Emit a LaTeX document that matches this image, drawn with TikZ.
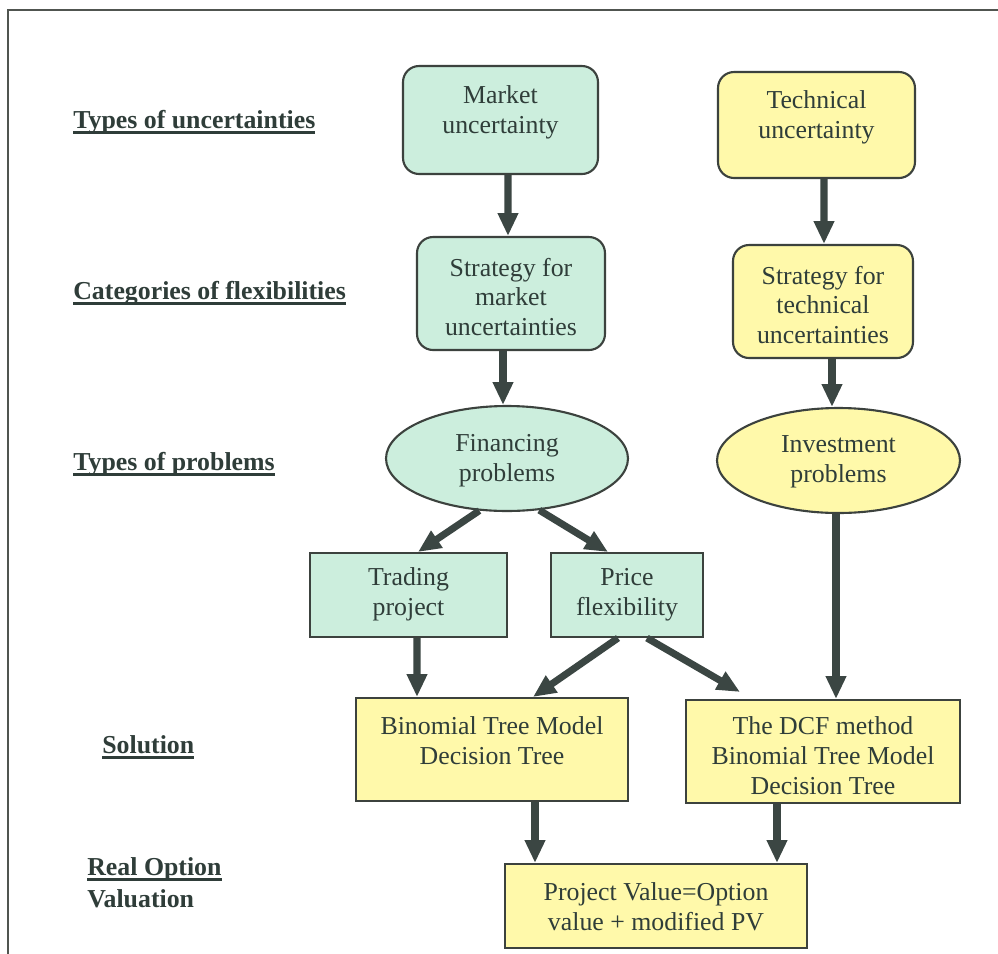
\documentclass[tikz,border=0pt]{standalone}
\usepackage{fontspec}
\setmainfont{Liberation Serif}
\usetikzlibrary{arrows.meta,shapes.geometric,calc}
\newcommand{\thkul}[1]{\setbox0\hbox{#1}\rlap{\rule[-3.4pt]{\wd0}{1.6pt}}\box0}
\definecolor{mint}{HTML}{CCEEDD}
\definecolor{lemon}{HTML}{FFF9AA}
\definecolor{edgec}{HTML}{3C423E}
\definecolor{ink}{HTML}{2F3D39}
\definecolor{arrowc}{HTML}{3B4643}
\definecolor{framec}{HTML}{505550}
\tikzset{
  shapebox/.style={draw=edgec, line width=1.2pt, inner sep=0pt},
  rbox/.style={shapebox, rectangle, rounded corners=0.32cm},
  sbox/.style={shapebox, rectangle},
  ell/.style={shapebox, ellipse},
  txt/.style={text=ink, align=center, font=\fontsize{14.7pt}{17pt}\selectfont, inner sep=0pt},
  lbl/.style={text=ink, font=\bfseries\fontsize{14.7pt}{17pt}\selectfont, inner sep=0pt, anchor=base west},
  arr/.style={draw=arrowc, line width=4pt, -{Triangle[length=13pt,width=11pt]}}
}
\begin{document}
\begin{tikzpicture}[x=0.02cm,y=-0.02cm]
\useasboundingbox (0,0) rectangle (998,954);
\fill[white] (0,0) rectangle (998,954);
\draw[framec, line width=1.2pt] (8,954) -- (8,10) -- (998,10);

% labels
\node[lbl] (L1) at (73,128) {\thkul{Types of uncertainties}};
\node[lbl] (L2) at (73,299) {\thkul{Categories of flexibilities}};
\node[lbl] (L3) at (73,470) {\thkul{Types of problems}};
\node[lbl] (L4) at (102,753) {\thkul{Solution}};
\node[lbl] (L5) at (87,875) {\thkul{Real Option}};
\node[lbl] (L6) at (87,907) {Valuation};

% shapes
\node[rbox, fill=mint, minimum width=3.9cm, minimum height=2.16cm] (MU) at (500.5,120) {};
\node[rbox, fill=lemon, minimum width=3.94cm, minimum height=2.12cm] (TU) at (816.5,125) {};
\node[rbox, fill=mint, minimum width=3.76cm, minimum height=2.26cm] (SM) at (511,293.5) {};
\node[rbox, fill=lemon, minimum width=3.6cm, minimum height=2.26cm] (ST) at (823,301.5) {};
\node[ell, fill=mint, minimum width=4.84cm, minimum height=2.1cm] (FP) at (507,458.5) {};
\node[ell, fill=lemon, minimum width=4.86cm, minimum height=2.1cm] (IP) at (838.5,460.5) {};
\node[sbox, fill=mint, minimum width=3.94cm, minimum height=1.68cm] (TP) at (408.5,595) {};
\node[sbox, fill=mint, minimum width=3.04cm, minimum height=1.68cm] (PF) at (627,595) {};
\node[sbox, fill=lemon, minimum width=5.44cm, minimum height=2.06cm] (BT) at (492,749.5) {};
\node[sbox, fill=lemon, minimum width=5.48cm, minimum height=2.06cm] (DCF) at (823,751.5) {};
\node[sbox, fill=lemon, minimum width=6.04cm, minimum height=1.68cm] (PV) at (656,906) {};

% texts
\node[txt] (MUt) at (500.5,112) {Market\\uncertainty};
\node[txt] (TUt) at (816.5,117.5) {Technical\\uncertainty};
\node[txt] (SMt) at (511,297) {Strategy for\\market\\uncertainties};
\node[txt] (STt) at (823,305) {Strategy for\\technical\\uncertainties};
\node[txt] (FPt) at (507,461) {Financing\\problems};
\node[txt] (IPt) at (838.5,462) {Investment\\problems};
\node[txt] (TPt) at (408.5,594) {Trading\\project};
\node[txt] (PFt) at (627,595) {Price\\flexibility};
\node[txt] (BTt) at (492,741) {Binomial Tree Model\\Decision Tree};
\node[txt] (DCFt) at (823,756) {The DCF method\\Binomial Tree Model\\Decision Tree};
\node[txt] (PVt) at (656,906.5) {Project Value=Option\\value + modified PV};

% arrows
\draw[arr] ($(MU.south)+(7.5,0)$) -- ($(SM.north)+(-3,0)$);
\draw[arr] ($(TU.south)+(7.5,0)$) -- ($(ST.north)+(1,0)$);
\draw[arr] ($(SM.south)+(-8,0)$) -- ($(FP.north)+(-4,0)$);
\draw[arr] ($(ST.south)+(9,0)$) -- ($(IP.north)+(-6.5,0)$);
\draw[arr] ($(IP.south)+(-2.5,0)$) -- ($(DCF.north)+(13,0)$);
\draw[arr] (FP.242) -- ($(TP.north)+(9.5,0)$);
\draw[arr] (FP.302) -- ($(PF.north)+(-19,0)$);
\draw[arr] ($(TP.south)+(8.5,0)$) -- ($(BT.north)+(-75,0)$);
\draw[arr] ($(PF.south)+(-9,0)$) -- ($(BT.north)+(41,0)$);
\draw[arr] ($(PF.south)+(20,0)$) -- ($(DCF.north)+(-83,-7)$);
\draw[arr] ($(BT.south)+(43,0)$) -- ($(PV.north)+(-121,0)$);
\draw[arr] ($(DCF.south)+(-46,0)$) -- ($(PV.north)+(121,0)$);
\end{tikzpicture}
\end{document}
